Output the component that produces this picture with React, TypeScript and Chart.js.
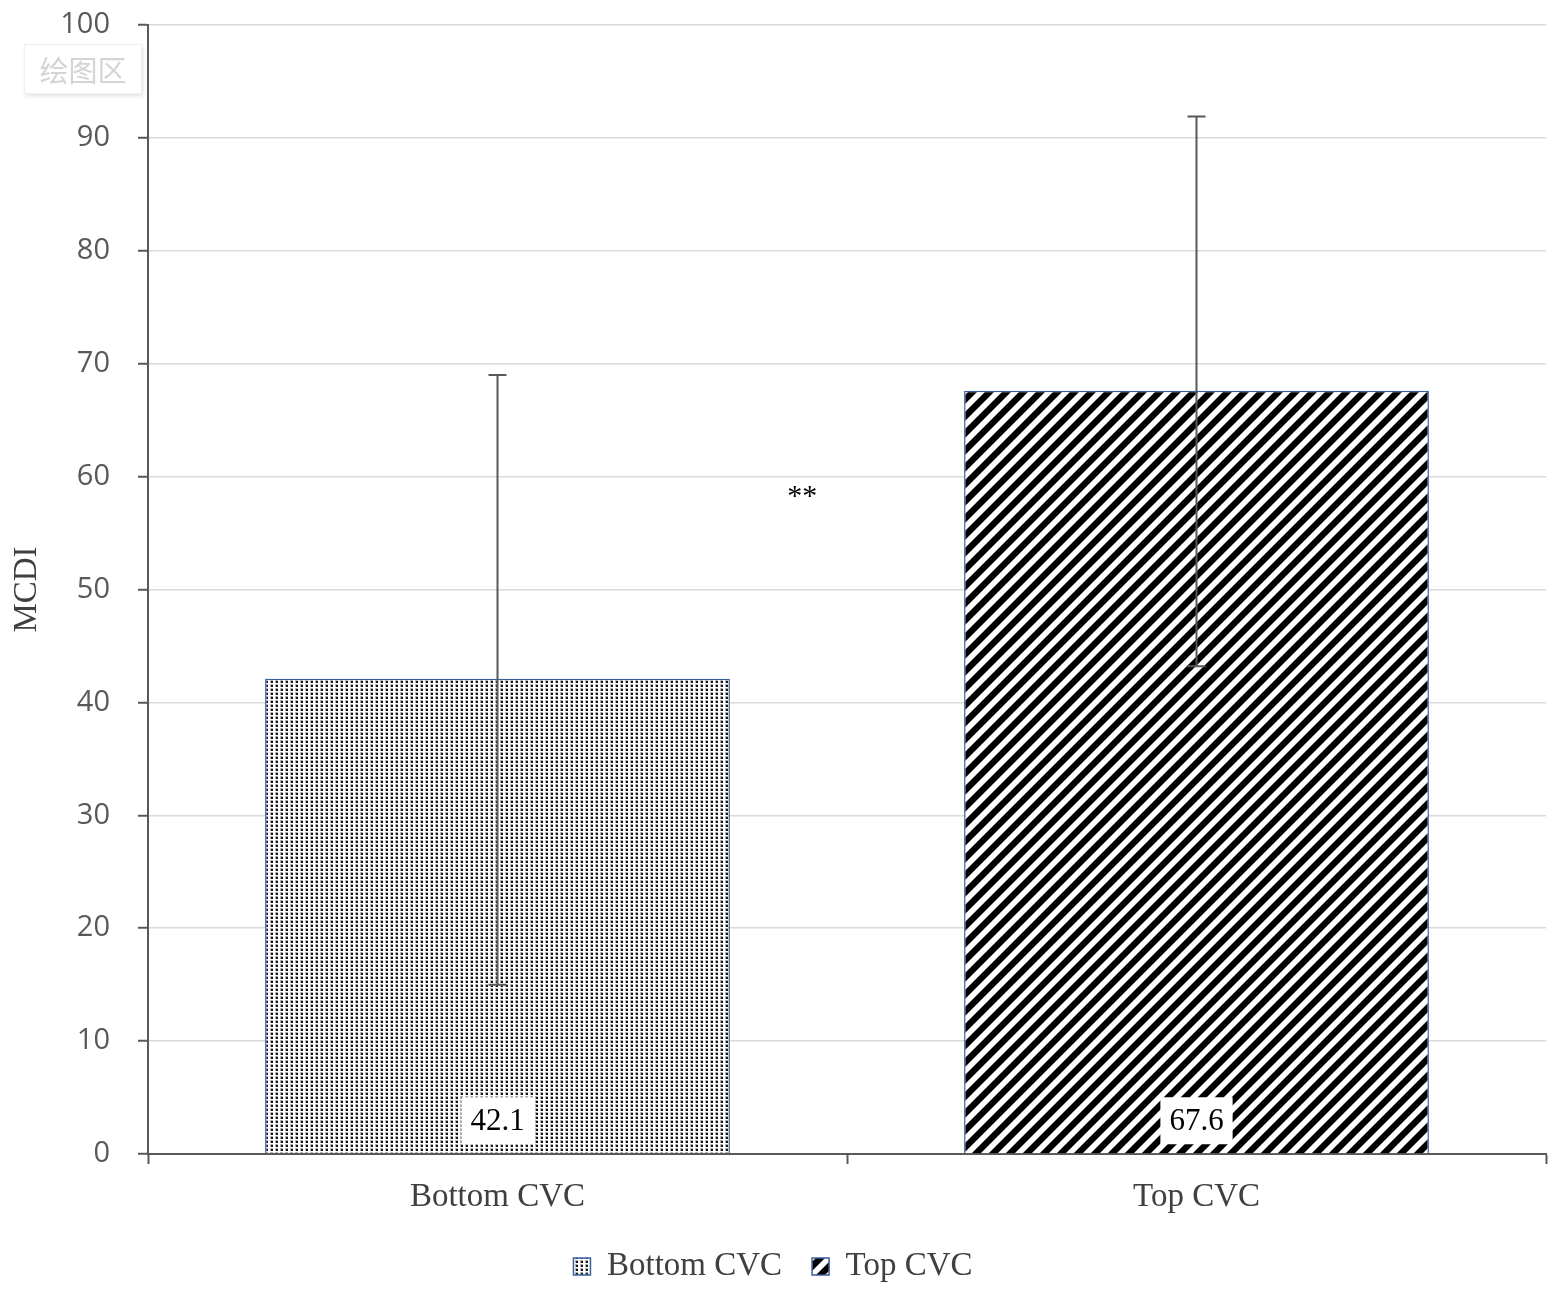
import React, { useEffect, useRef } from "react";
import { Chart, registerables } from "chart.js";

Chart.register(...registerables);

const categories = ["Bottom CVC", "Top CVC"];
const meanValues = [42.1, 67.6];
const errorUpper = [69.0, 91.9];
const errorLower = [15.0, 43.2];
const dataLabels = ["42.1", "67.6"];
const yMin = 0;
const yMax = 100;
const yStep = 10;
const sigLabel = "**";
const sigValue = 58.2;
const sigCategoryPos = 0.436;
const yTitle = "MCDI";
const tooltipText = "绘图区";

const SERIF = "'Liberation Serif', 'Times New Roman', serif";
const SANS = "'Open Sans', 'Noto Sans', sans-serif";

function makeDotPattern(): CanvasPattern | string {
  const w = 5;
  const h = 4;
  const c = document.createElement("canvas");
  c.width = w;
  c.height = h;
  const ctx = c.getContext("2d");
  if (!ctx) return "#999";
  ctx.fillStyle = "#ffffff";
  ctx.fillRect(0, 0, w, h);
  ctx.fillStyle = "#b0b0b0";
  ctx.fillRect(0, 0, 3, 3);
  ctx.fillStyle = "#141414";
  ctx.fillRect(1, 1, 2, 2);
  const p = ctx.createPattern(c, "repeat");
  return p || "#999";
}

function makeStripePattern(): CanvasPattern | string {
  const size = 17;
  const c = document.createElement("canvas");
  c.width = size;
  c.height = size;
  const ctx = c.getContext("2d");
  if (!ctx) return "#444";
  const img = ctx.createImageData(size, size);
  for (let y = 0; y < size; y++) {
    for (let x = 0; x < size; x++) {
      const m = (x + y) % size;
      let v = 255;
      if (m < 8) v = 0;
      else if (m === 8 || m === size - 1) v = 120;
      const i = (y * size + x) * 4;
      img.data[i] = v;
      img.data[i + 1] = v;
      img.data[i + 2] = v;
      img.data[i + 3] = 255;
    }
  }
  ctx.putImageData(img, 0, 0);
  const p = ctx.createPattern(c, "repeat");
  return p || "#444";
}

const overlayPlugin = {
  id: "overlayPlugin",
  afterDatasetsDraw(chart: any) {
    const ctx = chart.ctx as CanvasRenderingContext2D;
    const yScale = chart.scales.y;
    const xScale = chart.scales.x;
    ctx.save();
    chart.data.datasets.forEach((ds: any, di: number) => {
      const meta = chart.getDatasetMeta(di);
      ds.data.forEach((v: number | null, j: number) => {
        if (v === null || v === undefined) return;
        const el = meta.data[j];
        const x = el.x;
        const base = el.base;
        ctx.font = `31px ${SERIF}`;
        const txt = dataLabels[j];
        const tw = ctx.measureText(txt).width;
        const bw = tw + 18;
        const bh = 47;
        ctx.fillStyle = "#ffffff";
        ctx.fillRect(x - bw / 2, base - 9 - bh, bw, bh);
        ctx.fillStyle = "#000000";
        ctx.textAlign = "center";
        ctx.textBaseline = "middle";
        ctx.fillText(txt, x, base - 9 - bh / 2 + 1);
        const yTop = yScale.getPixelForValue(errorUpper[j]);
        const yBot = yScale.getPixelForValue(errorLower[j]);
        ctx.strokeStyle = "#595959";
        ctx.lineWidth = 2;
        ctx.beginPath();
        ctx.moveTo(x, yTop);
        ctx.lineTo(x, yBot);
        ctx.moveTo(x - 9, yTop);
        ctx.lineTo(x + 9, yTop);
        ctx.moveTo(x - 9, yBot);
        ctx.lineTo(x + 9, yBot);
        ctx.stroke();
      });
    });
    const mx = xScale.getPixelForValue(sigCategoryPos);
    const my = yScale.getPixelForValue(sigValue);
    ctx.font = `30px ${SERIF}`;
    ctx.fillStyle = "#000000";
    ctx.textAlign = "center";
    ctx.textBaseline = "middle";
    ctx.fillText(sigLabel, mx, my);
    ctx.restore();
  },
};

export default function App() {
  const ref = useRef<HTMLCanvasElement | null>(null);

  useEffect(() => {
    document.body.style.margin = "0";
    if (!ref.current) return;
    const dots = makeDotPattern();
    const stripes = makeStripePattern();
    const chart = new Chart(ref.current, {
      type: "bar",
      data: {
        labels: categories,
        datasets: [
          {
            label: categories[0],
            data: [meanValues[0], null],
            backgroundColor: dots as any,
            borderColor: "#3a5f9e",
            borderWidth: 1.5,
          },
          {
            label: categories[1],
            data: [null, meanValues[1]],
            backgroundColor: stripes as any,
            borderColor: "#3a5f9e",
            borderWidth: 1.5,
          },
        ],
      },
      options: {
        responsive: false,
        animation: false,
        devicePixelRatio: 1,
        layout: { padding: { left: 0, right: 13, top: 25, bottom: 0 } },
        datasets: {
          bar: { grouped: false, categoryPercentage: 1, barPercentage: 0.665 },
        },
        plugins: {
          tooltip: { enabled: false },
          legend: {
            position: "bottom",
            labels: {
              font: { family: SERIF, size: 33 },
              color: "#404040",
              boxWidth: 17,
              boxHeight: 17,
              padding: 30,
            },
          },
        },
        scales: {
          x: {
            grid: {
              offset: true,
              drawOnChartArea: false,
              drawTicks: true,
              tickLength: 10,
              tickColor: "#595959",
              tickWidth: 2,
            },
            border: { color: "#595959", width: 2 },
            ticks: {
              font: { family: SERIF, size: 33 },
              color: "#404040",
              padding: 14,
            },
            afterFit: (scale: any) => {
              scale.height = 66;
            },
          },
          y: {
            min: yMin,
            max: yMax,
            ticks: {
              stepSize: yStep,
              font: { family: SANS, size: 29 },
              color: "#595959",
              padding: 28,
            },
            grid: {
              color: "#d9d9d9",
              lineWidth: 1.5,
              tickColor: "#595959",
              tickWidth: 2,
              tickLength: 10,
            },
            border: { color: "#595959", width: 2 },
            title: {
              display: true,
              text: yTitle,
              font: { family: SERIF, size: 33 },
              color: "#404040",
              padding: { top: 8, bottom: 0 },
            },
            afterFit: (scale: any) => {
              scale.width = 148;
              scale.paddingTop = 0;
              scale.paddingBottom = 0;
            },
          },
        },
      },
      plugins: [overlayPlugin],
    });
    return () => chart.destroy();
  }, []);

  return (
    <div style={{ position: "relative", width: 1559, height: 1293, background: "#fff" }}>
      <canvas ref={ref} width={1559} height={1293} style={{ display: "block" }} />
      <div
        style={{
          position: "absolute",
          left: 24,
          top: 44,
          width: 116,
          height: 48,
          background: "#fff",
          boxShadow: "1px 2px 4px rgba(0,0,0,0.12)",
          border: "1px solid #f0f0f0",
          color: "#d4d4d4",
          fontFamily: "'Noto Sans CJK SC', sans-serif",
          fontSize: 29,
          lineHeight: "48px",
          textAlign: "center",
        }}
      >
        {tooltipText}
      </div>
    </div>
  );
}
